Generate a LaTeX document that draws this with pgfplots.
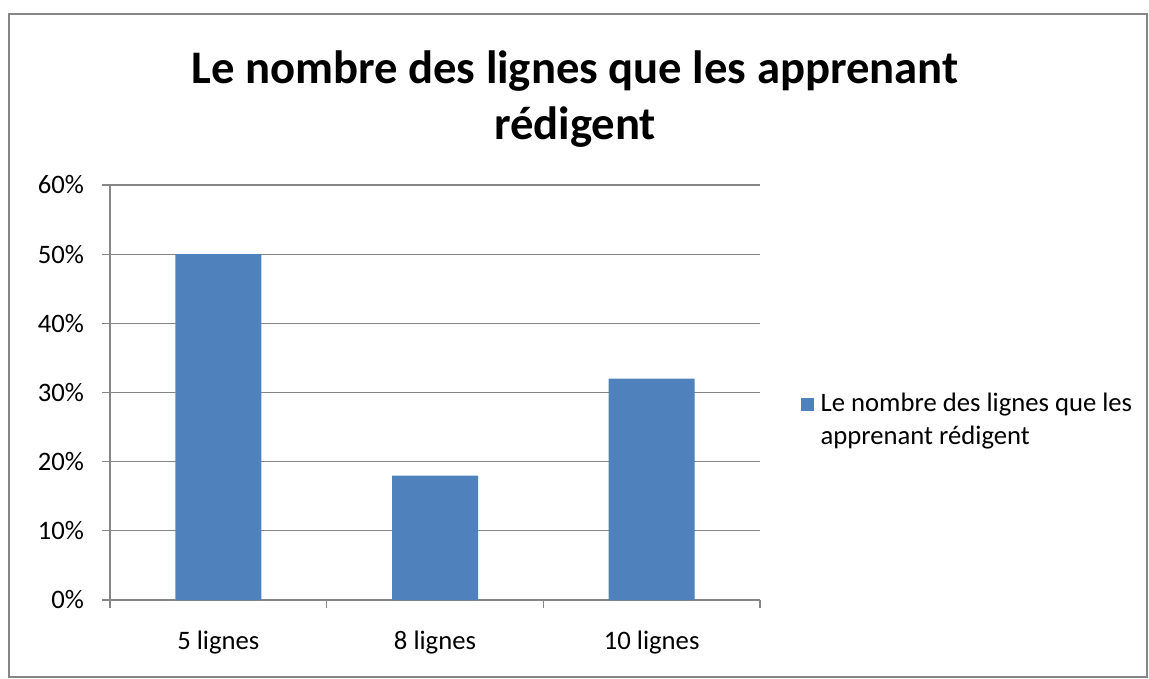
\documentclass[border=0pt]{standalone}
\usepackage{pgfplots}
\pgfplotsset{compat=1.18}
\usepackage{fontspec}
\setmainfont{Carlito}
\definecolor{barblue}{HTML}{4F81BD}
\definecolor{gridgray}{HTML}{868686}
\begin{document}
\begin{tikzpicture}
\useasboundingbox (0,0) rectangle (861.75pt,508.5pt);
\draw[gridgray, line width=1.5pt] (6.75pt,0.75pt) rectangle (860.25pt,498pt);
\node[align=center, font=\fontsize{35}{42}\selectfont\bfseries, anchor=center] at (431.25pt,434pt)
  {Le nombre des lignes que les apprenant\\rédigent};
\begin{axis}[
  at={(82.5pt,58.5pt)}, anchor=south west,
  scale only axis, width=487.5pt, height=311.25pt,
  xmin=-0.5, xmax=2.5, ymin=0, ymax=60,
  axis x line=bottom, axis y line=left,
  axis line style={gridgray, line width=0.9pt, -},
  xtick={0,1,2}, xticklabels={5 lignes,8 lignes,10 lignes},
  minor xtick={-0.5,0.5,1.5,2.5},
  ytick={0,10,20,30,40,50,60},
  yticklabels={0\%,10\%,20\%,30\%,40\%,50\%,60\%},
  ymajorgrids, grid style={gridgray, line width=0.9pt},
  tick align=outside,
  major tick length=6pt, minor tick length=6pt,
  x tick style={draw=none},
  minor x tick style={draw=gridgray, line width=0.9pt},
  y tick style={gridgray, line width=0.9pt},
  tick label style={font=\fontsize{20}{24}\selectfont},
  xticklabel style={yshift=-14pt},
  yticklabel style={xshift=-10pt},
  legend style={at={(1.056,0.434)}, anchor=west, draw=none,
    font=\fontsize{20}{24.75}\selectfont, cells={align=left}},
  legend image code/.code={\fill[barblue] (0pt,6.5pt) rectangle (10pt,16.5pt); \path (13pt,6.5pt);},
]
\addplot[ybar, bar width=64.5pt, fill=barblue, draw=none] coordinates {(0,50) (1,18) (2,32)};
\addlegendentry{Le nombre des lignes que les\\apprenant rédigent}
\end{axis}
\end{tikzpicture}
\end{document}
